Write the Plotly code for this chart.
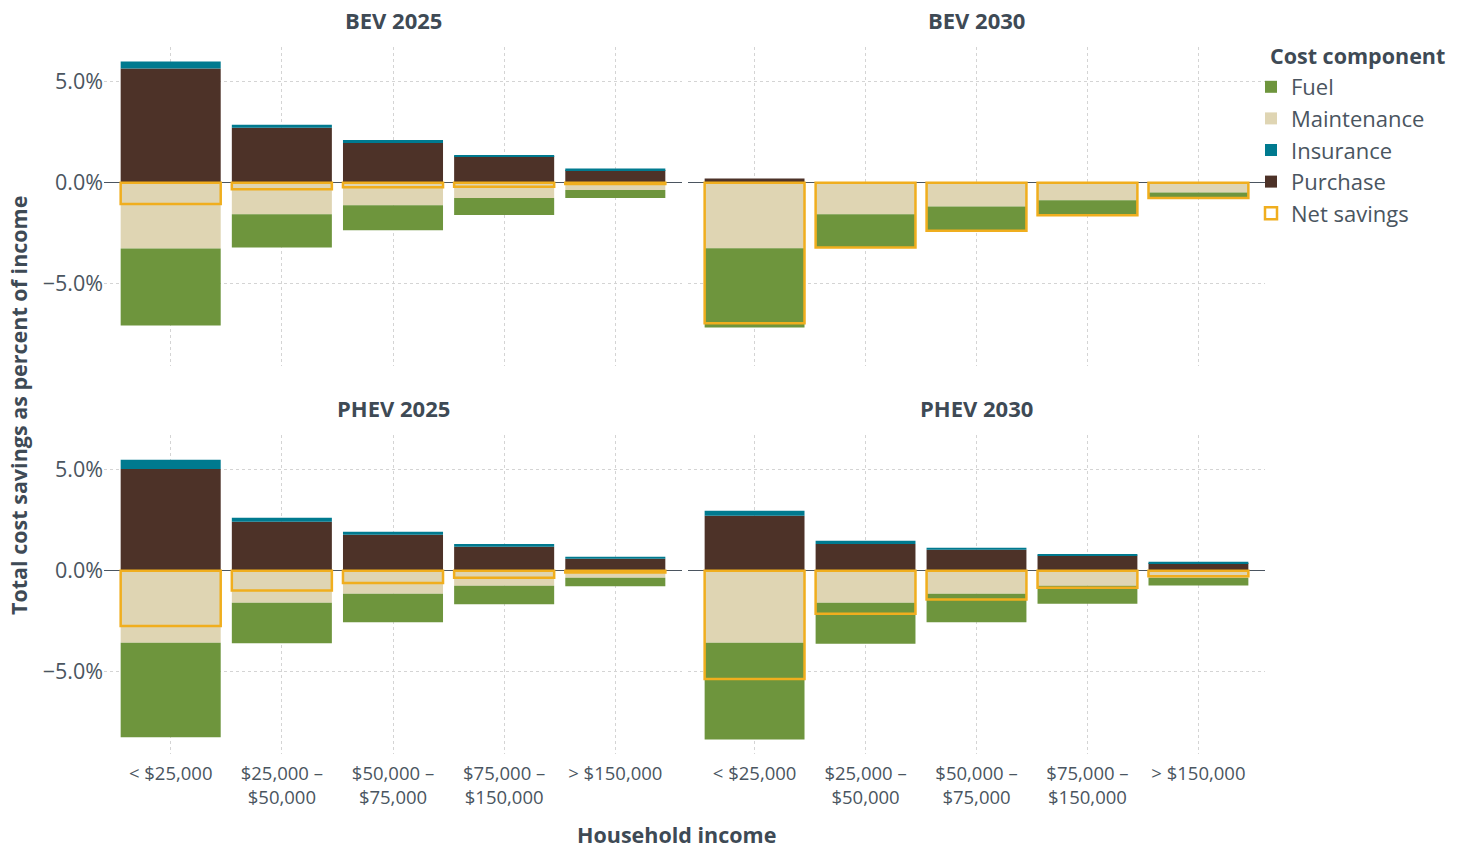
import numpy as np
import plotly.graph_objects as go

# ---------------- data (percent of household income) ----------------
income_labels = ["< $25,000", "$25,000 –<br>$50,000", "$50,000 –<br>$75,000",
                 "$75,000 –<br>$150,000", "> $150,000"]
panels = ["BEV 2025", "BEV 2030", "PHEV 2025", "PHEV 2030"]

purchase_bev25 = [5.65, 2.72, 1.97, 1.32, 0.63]
insurance_bev25 = [0.35, 0.15, 0.15, 0.05, 0.07]
maintenance_bev25 = [-3.25, -1.56, -1.11, -0.76, -0.36]
fuel_bev25 = [-3.82, -1.64, -1.24, -0.83, -0.40]
net_bev25 = [-1.05, -0.32, -0.22, -0.20, -0.06]

purchase_bev30 = [0.21, 0.0, 0.0, -0.06, -0.03]
insurance_bev30 = [0.0, 0.0, 0.0, 0.0, 0.0]
maintenance_bev30 = [-3.24, -1.56, -1.17, -0.81, -0.45]
fuel_bev30 = [-3.93, -1.65, -1.21, -0.74, -0.27]
net_bev30 = [-6.96, -3.21, -2.38, -1.61, -0.75]

purchase_phev25 = [5.04, 2.42, 1.78, 1.19, 0.59]
insurance_phev25 = [0.45, 0.20, 0.15, 0.14, 0.10]
maintenance_phev25 = [-3.56, -1.58, -1.14, -0.74, -0.35]
fuel_phev25 = [-4.68, -2.01, -1.41, -0.92, -0.42]
net_phev25 = [-2.73, -0.98, -0.61, -0.34, -0.08]

purchase_phev30 = [2.72, 1.33, 1.04, 0.76, 0.38]
insurance_phev30 = [0.25, 0.15, 0.10, 0.03, 0.06]
maintenance_phev30 = [-3.56, -1.58, -1.14, -0.74, -0.35]
fuel_phev30 = [-4.79, -2.03, -1.41, -0.89, -0.38]
net_phev30 = [-5.36, -2.13, -1.42, -0.84, -0.27]

y_ticks = [-5, 0, 5]
y_tick_labels = ["\u22125.0%", "0.0%", "5.0%"]

panel_data = {
    "BEV 2025": dict(Purchase=purchase_bev25, Insurance=insurance_bev25,
                     Maintenance=maintenance_bev25, Fuel=fuel_bev25, Net=net_bev25),
    "BEV 2030": dict(Purchase=purchase_bev30, Insurance=insurance_bev30,
                     Maintenance=maintenance_bev30, Fuel=fuel_bev30, Net=net_bev30),
    "PHEV 2025": dict(Purchase=purchase_phev25, Insurance=insurance_phev25,
                      Maintenance=maintenance_phev25, Fuel=fuel_phev25, Net=net_phev25),
    "PHEV 2030": dict(Purchase=purchase_phev30, Insurance=insurance_phev30,
                      Maintenance=maintenance_phev30, Fuel=fuel_phev30, Net=net_phev30),
}

# ---------------- styling ----------------
colors = {"Fuel": "#6E953D", "Maintenance": "#DFD5B3", "Insurance": "#007A8F",
          "Purchase": "#4D3228", "Net": "#F0AE1E"}
legend_rank = {"Fuel": 1, "Maintenance": 2, "Insurance": 3, "Purchase": 4}
stack_order = ["Purchase", "Insurance", "Maintenance", "Fuel"]
text_color = "#3E4A55"
tick_color = "#4A5560"
font_family = "'Open Sans', Lato, sans-serif"

W, H = 1466, 848


def px(x):
    return x / W


def py(y):
    return 1 - y / H


x_doms = [(px(104), px(682)), (px(688), px(1265))]
y_doms = [(py(366), py(47)), (py(754), py(435))]
y_range = [-9.07, 6.72]

fig = go.Figure()

for i, name in enumerate(panels):
    row, col = divmod(i, 2)
    ax = "" if i == 0 else str(i + 1)
    d = panel_data[name]
    pos_base = np.zeros(len(income_labels))
    neg_base = np.zeros(len(income_labels))
    for comp in stack_order:
        vals = np.array(d[comp], dtype=float)
        base = np.where(vals >= 0, pos_base, neg_base)
        fig.add_trace(go.Bar(
            x=income_labels, y=vals, base=base, width=0.9,
            marker=dict(color=colors[comp], line=dict(width=0)),
            name=comp, legendgroup=comp, legendrank=legend_rank[comp],
            showlegend=(i == 0), xaxis="x" + ax, yaxis="y" + ax,
        ))
        pos_base = pos_base + np.where(vals >= 0, vals, 0)
        neg_base = neg_base + np.where(vals < 0, vals, 0)
    fig.add_trace(go.Bar(
        x=income_labels, y=d["Net"], base=0, width=0.9,
        marker=dict(color="rgba(255,255,255,0)", line=dict(color=colors["Net"], width=2.5)),
        name="Net savings", legendgroup="Net", legendrank=5,
        showlegend=(i == 0), xaxis="x" + ax, yaxis="y" + ax,
    ))

    fig.layout["xaxis" + ax] = dict(
        domain=x_doms[col], anchor="y" + ax, type="category",
        categoryorder="array", categoryarray=income_labels,
        range=[-0.6, 4.6], showgrid=True, griddash="dot", gridcolor="#D4D4D4",
        gridwidth=1, showline=False, ticks="", zeroline=False,
        showticklabels=(row == 1), ticklabelstandoff=6,
        tickfont=dict(size=18.5, color=tick_color, family=font_family),
    )
    fig.layout["yaxis" + ax] = dict(
        domain=y_doms[row], anchor="x" + ax, range=y_range,
        tickvals=y_ticks, ticktext=y_tick_labels,
        showgrid=True, griddash="dot", gridcolor="#D4D4D4", gridwidth=1,
        zeroline=True, zerolinecolor="#4B5560", zerolinewidth=1.3,
        showline=False, ticks="", showticklabels=(col == 0),
        tickfont=dict(size=21.5, color=tick_color, family=font_family),
    )
    fig.add_annotation(
        text="<b>" + name + "</b>", xref="paper", yref="paper",
        x=sum(x_doms[col]) / 2, y=y_doms[row][1] + 27 / H,
        xanchor="center", yanchor="middle", showarrow=False,
        font=dict(size=22, color=text_color, family=font_family),
    )

fig.add_annotation(text="<b>Household income</b>", xref="paper", yref="paper",
                   x=px(676), y=py(834), xanchor="center", yanchor="middle",
                   showarrow=False, font=dict(size=21.5, color=text_color, family=font_family))
fig.add_annotation(text="<b>Total cost savings as percent of income</b>", xref="paper",
                   yref="paper", x=px(18), y=py(406), xanchor="center", yanchor="middle",
                   textangle=-90, showarrow=False,
                   font=dict(size=21.5, color=text_color, family=font_family))
fig.add_annotation(text="<b>Cost component</b>", xref="paper", yref="paper",
                   x=px(1268), y=py(55), xanchor="left", yanchor="middle",
                   showarrow=False, font=dict(size=21.5, color=text_color, family=font_family))

fig.update_layout(
    width=W, height=H, barmode="overlay",
    margin=dict(l=0, r=0, t=0, b=0),
    paper_bgcolor="white", plot_bgcolor="white",
    font=dict(family=font_family, color=text_color),
    legend=dict(
        x=px(1251), y=py(66), xanchor="left", yanchor="top",
        font=dict(size=22, color=tick_color, family=font_family), traceorder="normal",
        bgcolor="rgba(0,0,0,0)", itemwidth=30,
    ),
)

fig.write_html(
    "out.html",
    config={"displayModeBar": False},
    post_script="document.body.style.margin='0';document.body.style.overflow='hidden';",
)
